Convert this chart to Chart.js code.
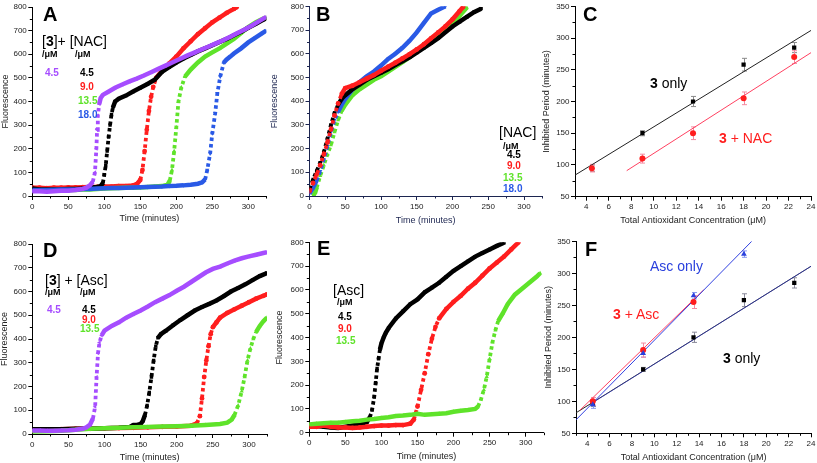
<!DOCTYPE html>
<html><head><meta charset="utf-8">
<script src="https://cdn.jsdelivr.net/npm/chart.js@4.4.1/dist/chart.umd.min.js"></script>
<style>
html,body{margin:0;padding:0;background:#fff;width:817px;height:463px;overflow:hidden;position:relative;}
canvas{position:absolute;left:0;top:0;}
.t{position:absolute;font-family:"Liberation Sans",Arial,Helvetica,sans-serif;white-space:nowrap;line-height:1;transform:translateY(-50%);color:#000;}
.L{font-size:20px;font-weight:bold;}
.h{font-size:14px;}
.u{font-size:9px;font-weight:bold;}
.n{font-size:10px;font-weight:bold;}
</style></head><body>
<canvas id="cA" width="817" height="463"></canvas>
<canvas id="cB" width="817" height="463"></canvas>
<canvas id="cC" width="817" height="463"></canvas>
<canvas id="cD" width="817" height="463"></canvas>
<canvas id="cE" width="817" height="463"></canvas>
<canvas id="cF" width="817" height="463"></canvas>

<div class="t L" style="left:43px;top:14px">A</div>
<div class="t h" style="left:42px;top:41px">[<b>3</b>]+ [NAC]</div>
<div class="t u" style="left:42px;top:54px">/μM</div>
<div class="t u" style="left:75px;top:54px">/μM</div>
<div class="t n" style="left:45px;top:73px;color:#a64dff">4.5</div>
<div class="t n" style="left:80px;top:73px;color:#000">4.5</div>
<div class="t n" style="left:80px;top:87px;color:#ff1e1e">9.0</div>
<div class="t n" style="left:78px;top:101px;color:#5fe32a">13.5</div>
<div class="t n" style="left:78px;top:115px;color:#2a5ae6">18.0</div>

<div class="t L" style="left:316px;top:14px">B</div>
<div class="t h" style="left:499px;top:132px">[NAC]</div>
<div class="t u" style="left:503px;top:146px">/μM</div>
<div class="t n" style="left:507px;top:155px;color:#000">4.5</div>
<div class="t n" style="left:507px;top:166px;color:#ff1e1e">9.0</div>
<div class="t n" style="left:503px;top:178px;color:#5fe32a">13.5</div>
<div class="t n" style="left:503px;top:189px;color:#2a5ae6">18.0</div>

<div class="t L" style="left:583px;top:14px">C</div>
<div class="t h" style="left:650px;top:83px"><b>3</b> only</div>
<div class="t h" style="left:719px;top:138px;color:#ff1e1e"><b>3</b> + NAC</div>

<div class="t L" style="left:43px;top:250px">D</div>
<div class="t h" style="left:45px;top:280px">[<b>3</b>] + [Asc]</div>
<div class="t u" style="left:45px;top:292px">/μM</div>
<div class="t u" style="left:80px;top:292px">/μM</div>
<div class="t n" style="left:47px;top:310px;color:#a64dff">4.5</div>
<div class="t n" style="left:82px;top:310px;color:#000">4.5</div>
<div class="t n" style="left:82px;top:320px;color:#ff1e1e">9.0</div>
<div class="t n" style="left:80px;top:329px;color:#5fe32a">13.5</div>

<div class="t L" style="left:317px;top:248px">E</div>
<div class="t h" style="left:333px;top:290px">[Asc]</div>
<div class="t u" style="left:337px;top:302px">/μM</div>
<div class="t n" style="left:338px;top:317px;color:#000">4.5</div>
<div class="t n" style="left:338px;top:329px;color:#ff1e1e">9.0</div>
<div class="t n" style="left:336px;top:341px;color:#5fe32a">13.5</div>

<div class="t L" style="left:585px;top:249px">F</div>
<div class="t h" style="left:650px;top:266px;color:#2a40dd">Asc only</div>
<div class="t h" style="left:613px;top:314px;color:#ff1e1e"><b>3</b> + Asc</div>
<div class="t h" style="left:723px;top:358px"><b>3</b> only</div>

<script>
const FONT = '"Liberation Sans", Arial, Helvetica, sans-serif';

// ---- tick values ----
const timeTicks = [0, 50, 100, 150, 200, 250, 300];
const timeMinor = [25, 75, 125, 175, 225, 275, 325];
const fluorTicks = [0, 100, 200, 300, 400, 500, 600, 700, 800];
const fluorMinor = [50, 150, 250, 350, 450, 550, 650, 750];
const concTicks = [4, 6, 8, 10, 12, 14, 16, 18, 20, 22, 24];
const concMinor = [3, 5, 7, 9, 11, 13, 15, 17, 19, 21, 23];
const periodTicks = [50, 100, 150, 200, 250, 300, 350];
const periodMinor = [75, 125, 175, 225, 275, 325];

// ---- Panel A: [3] + [NAC] ----
const tA_purple = [0,10,20,30,40,50,60,70,75,80,84,87,89,90,91,93,95,98,105,115,125,135,145,155,165,175,185,195,205,215,225,235,245,255,265,275,285,295,305,315,325];
const yA_purple = [20,20,18,20,22,22,25,30,35,45,60,100,200,280,340,390,415,428,440,458,472,485,497,510,524,538,552,566,580,594,607,620,633,646,659,674,690,705,722,740,758];
const tA_black = [0,10,20,30,40,50,60,70,80,90,95,98,100,102,104,106,108,110,112,115,120,130,140,150,160,170,180,190,200,210,220,230,240,250,260,270,280,290,300,310,320,325];
const yA_black = [32,28,27,28,28,30,30,32,35,38,42,55,90,130,190,250,300,345,375,400,412,425,442,458,474,492,525,545,565,582,597,612,625,638,652,665,680,695,712,728,745,752];
const tA_red = [0,10,20,30,40,50,60,70,80,90,100,110,120,130,140,145,150,153,156,159,162,165,168,172,180,190,200,210,220,230,240,250,260,270,280,284];
const yA_red = [35,35,33,35,35,36,36,37,38,38,40,40,42,42,45,50,68,110,190,280,360,420,462,500,530,560,590,625,655,685,710,735,755,775,792,800];
const tA_green = [0,10,20,30,40,50,60,70,80,90,100,110,120,130,140,150,160,170,180,188,191,194,197,200,203,207,212,220,230,240,250,260,270,280,290,300,310,320,325];
const yA_green = [25,25,24,25,24,26,25,27,28,30,32,33,34,35,35,36,38,40,42,48,65,110,190,290,400,460,505,535,565,590,608,625,645,665,690,715,735,750,755];
const tA_blue = [0,10,20,30,40,50,60,70,80,90,100,110,120,130,140,150,160,170,180,190,200,210,220,230,236,240,243,247,250,254,257,261,266,270,275,280,290,300,310,320,325];
const yA_blue = [25,25,25,26,27,28,28,30,30,32,33,34,34,35,36,37,38,39,40,42,43,45,48,52,58,70,110,180,265,350,435,505,565,578,590,603,625,650,670,690,700];

// ---- Panel B: [NAC] only ----
const tB_black = [0,5,10,15,20,25,30,35,40,45,50,60,70,80,90,100,110,120,130,140,150,160,170,180,190,200,210,220,230,240];
const yB_black = [30,70,105,140,185,240,300,350,385,410,425,450,470,490,505,520,535,552,568,585,605,625,645,665,690,715,735,755,775,790];
const tB_red = [0,5,10,15,20,25,30,35,40,45,50,60,70,80,90,100,110,120,130,140,150,160,170,180,190,200,210,215];
const yB_red = [20,55,90,130,175,225,280,340,390,430,455,465,480,495,510,528,545,562,580,598,618,640,665,690,715,745,780,798];
const tB_green = [5,8,10,15,20,25,30,35,40,45,50,60,70,80,90,100,110,120,130,140,150,160,170,180,190,200,210,220];
const yB_green = [0,15,35,85,130,175,215,270,320,360,385,425,450,470,490,505,525,545,565,585,610,630,650,675,700,725,760,795];
const tB_blue = [0,5,10,15,20,25,30,35,40,45,50,60,70,80,90,100,110,120,130,140,150,160,170,180,190];
const yB_blue = [10,35,65,105,155,210,270,320,355,385,410,450,480,505,525,550,578,600,625,655,690,730,770,785,800];

// ---- Panel C: inhibited period vs concentration (NAC) ----
const concC = [4.5, 9, 13.5, 18, 22.5];
const periodC_only = [95, 150, 200, 258, 285];
const errC_only = [5, 4, 8, 10, 8];
const periodC_nac = [95, 110, 150, 205, 270];
const errC_nac = [6, 7, 10, 10, 10];
const fitC_only_x = [3, 24];
const fitC_only_y = [84, 312];
const fitC_nac_x = [7.6, 24];
const fitC_nac_y = [91, 277];

// ---- Panel D: [3] + [Asc] ----
const tD_purple = [0,10,20,30,40,50,60,70,75,80,84,87,89,91,93,96,100,110,120,130,140,150,160,170,180,190,200,210,220,230,240,250,260,270,280,290,300,310,320,325];
const yD_purple = [15,15,14,14,15,16,18,22,28,40,65,115,240,340,385,415,435,455,470,490,505,520,537,555,570,585,603,620,640,660,680,695,705,718,730,740,748,755,762,765];
const tD_black = [0,20,40,60,80,100,120,135,140,145,150,153,156,159,162,165,168,171,174,178,185,195,205,215,225,235,245,255,265,275,285,295,305,315,325];
const yD_black = [20,20,20,22,22,24,26,30,38,38,42,55,80,120,175,240,310,370,405,420,435,458,480,500,520,535,548,562,580,600,615,630,648,665,678];
const tD_red = [0,20,40,60,80,100,120,140,160,180,200,220,228,232,235,238,241,244,247,250,255,260,270,280,290,300,310,320,325];
const yD_red = [15,18,20,22,22,24,25,26,28,30,32,35,45,75,150,240,310,370,420,450,470,490,510,525,540,555,570,582,588];
const tD_green = [0,20,40,60,80,100,120,140,160,180,200,220,240,260,270,276,280,285,290,294,298,302,306,310,315,320,325];
const yD_green = [10,12,14,18,22,24,26,28,30,32,33,35,38,42,48,60,80,120,180,240,310,360,400,430,455,475,490];

// ---- Panel E: [Asc] only ----
const tE_black = [0,10,20,30,40,50,60,70,80,84,87,90,92,94,96,98,100,103,106,110,120,130,140,150,160,170,180,190,200,210,220,230,240,250,260,270];
const yE_black = [30,28,25,22,20,25,30,35,45,65,95,150,210,270,310,350,375,400,420,440,480,510,540,560,590,610,630,655,680,700,720,740,755,770,785,798];
const tE_red = [0,10,20,30,40,50,60,70,80,90,100,110,120,130,140,145,150,155,160,165,170,175,180,190,200,210,220,230,240,250,260,270,280,290];
const yE_red = [25,25,30,25,22,22,20,22,25,28,30,30,32,32,38,55,110,180,250,330,395,445,480,520,550,575,605,630,660,690,715,740,770,800];
const tE_green = [0,10,20,30,40,50,60,70,80,90,100,110,120,130,140,150,160,170,180,190,200,210,220,230,234,238,242,246,250,254,258,262,268,275,285,295,305,315,320];
const yE_green = [35,38,40,42,42,45,48,50,55,58,62,65,70,72,75,80,75,78,80,82,88,92,95,100,110,140,180,235,310,380,430,470,500,540,580,605,630,655,670];

// ---- Panel F: inhibited period vs concentration (Asc) ----
const concF = [4.5, 9, 13.5, 18, 22.5];
const periodF_only = [97, 150, 200, 258, 285];
const errF_only = [5, 3, 8, 10, 8];
const concF_asc = [4.5, 9, 13.5, 18];
const periodF_asc = [95, 175, 265, 330];
const errF_asc = [6, 6, 5, 5];
const concF_mix = [4.5, 9, 13.5];
const periodF_mix = [100, 180, 255];
const errF_mix = [6, 11, 10];
const fitF_only_x = [3, 24];
const fitF_only_y = [82, 311];
const fitF_only2_x = [4.5, 24];
const fitF_only2_y = [98, 311];
const fitF_asc_x = [3, 18.7];
const fitF_asc_y = [71, 350];
const fitF_mix_x = [3.35, 14.4];
const fitF_mix_y = [86, 274];

// ---- colours ----
const PURPLE = '#a64dff', BLACK = '#000000', RED = '#ff1e1e', GREEN = '#5fe32a', BLUE = '#2a5ae6';

const pts = (xs, ys) => xs.map((x, i) => ({x: x, y: ys[i]}));

function steep(c) {
  const dx = Math.abs(c.p1.x - c.p0.x), dy = Math.abs(c.p1.y - c.p0.y);
  return dy > 2.2 * dx && dy > 6;
}

function curve(xs, ys, color, style, rot) {
  return {data: pts(xs, ys), showLine: true, borderColor: color, backgroundColor: color,
    borderWidth: 4.5, pointStyle: style, rotation: rot || 0, pointRadius: 2.4,
    pointBorderWidth: 0, tension: 0, borderCapStyle: 'butt',
    segment: {
      borderDash: c => steep(c) ? [3.5, 3] : undefined,
      borderWidth: c => steep(c) ? 3.8 : undefined
    }};
}
function markers(xs, ys, color, style, r) {
  return {data: pts(xs, ys), showLine: false, borderColor: color, backgroundColor: color,
    pointStyle: style, pointRadius: r, pointBorderWidth: 0};
}
function fit(xs, ys, color, w) {
  return {data: pts(xs, ys), showLine: true, borderColor: color, borderWidth: w || 1,
    pointRadius: 0, tension: 0};
}

const extras = {
  id: 'extras',
  beforeDatasetsDraw(chart) {
    const o = chart.options.plugins.extras;
    const ctx = chart.ctx, xs = chart.scales.x, ys = chart.scales.y;
    ctx.save();
    (o.bars || []).forEach(b => {
      ctx.strokeStyle = b.color; ctx.lineWidth = 1;
      b.x.forEach((xv, i) => {
        const px = Math.round(xs.getPixelForValue(xv)) + 0.5;
        const p1 = ys.getPixelForValue(b.y[i] + b.err[i]);
        const p2 = ys.getPixelForValue(b.y[i] - b.err[i]);
        ctx.beginPath();
        ctx.moveTo(px, p1); ctx.lineTo(px, p2);
        ctx.moveTo(px - 2.5, p1); ctx.lineTo(px + 2.5, p1);
        ctx.moveTo(px - 2.5, p2); ctx.lineTo(px + 2.5, p2);
        ctx.stroke();
      });
    });
    ctx.restore();
  },
  afterDraw(chart) {
    const o = chart.options.plugins.extras;
    const ctx = chart.ctx, xs = chart.scales.x, ys = chart.scales.y;
    ctx.save();
    ctx.strokeStyle = o.axisColor; ctx.lineWidth = 1;
    ctx.beginPath();
    o.xMinor.forEach(v => {
      if (v < xs.min || v > xs.max) return;
      const px = Math.round(xs.getPixelForValue(v)) + 0.5;
      ctx.moveTo(px, xs.top); ctx.lineTo(px, xs.top + 2.5);
    });
    o.yMinor.forEach(v => {
      if (v < ys.min || v > ys.max) return;
      const py = Math.round(ys.getPixelForValue(v)) + 0.5;
      ctx.moveTo(ys.right, py); ctx.lineTo(ys.right - 2.5, py);
    });
    ctx.stroke();
    ctx.restore();
  }
};

function axis(min, max, ticks, title, fitFn, color) {
  return {
    type: 'linear', min: min, max: max,
    afterBuildTicks: s => { s.ticks = ticks.map(v => ({value: v})); },
    afterFit: fitFn,
    grid: {display: true, drawOnChartArea: false, drawTicks: true, tickLength: 4, tickColor: color, color: color},
    border: {display: true, color: color, width: 1},
    ticks: {font: {family: FONT, size: 8}, color: '#222', padding: 1.5, maxRotation: 0, autoSkip: false},
    title: {display: true, text: title, font: {family: FONT, size: 9, lineHeight: 1.1}, color: color === '#000' ? '#222' : color, padding: 0}
  };
}

function panel(id, p) {
  const W = 817, H = 463;
  new Chart(document.getElementById(id), {
    type: 'scatter',
    data: {datasets: p.datasets},
    options: {
      responsive: false, animation: false, events: [],
      layout: {padding: {left: p.l - p.yW, right: W - p.r, top: p.t, bottom: H - p.b - p.xH}},
      plugins: {legend: {display: false}, tooltip: {enabled: false},
        extras: {bars: p.bars || [], xMinor: p.xMinor, yMinor: p.yMinor, axisColor: p.color || '#000'}},
      scales: {
        x: axis(p.xMin, p.xMax, p.xTicks, p.xTitle, s => { s.height = p.xH; }, p.color || '#000'),
        y: axis(p.yMin, p.yMax, p.yTicks, p.yTitle, s => { s.width = p.yW; }, p.color || '#000')
      }
    },
    plugins: [extras]
  });
}

const TIME = 'Time (minutes)', FLUOR = 'Fluorescence';
const CONC = 'Total Antioxidant Concentration (\u03bcM)', PER = 'Inhibited Period (minutes)';

panel('cA', {l: 32.3, t: 7, r: 266.3, b: 196, yW: 32, xH: 27.3,
  xMin: 0, xMax: 325, yMin: 0, yMax: 800, xTicks: timeTicks, yTicks: fluorTicks,
  xMinor: timeMinor, yMinor: fluorMinor, xTitle: TIME, yTitle: FLUOR,
  datasets: [
    curve(tA_purple, yA_purple, PURPLE, 'triangle', 270),
    curve(tA_blue, yA_blue, BLUE, 'triangle', 180),
    curve(tA_black, yA_black, BLACK, 'rect'),
    curve(tA_green, yA_green, GREEN, 'triangle'),
    curve(tA_red, yA_red, RED, 'circle')
  ]});

panel('cB', {l: 309.5, t: 6.3, r: 541.9, b: 196, yW: 39.5, xH: 29,
  xMin: 0, xMax: 325, yMin: 0, yMax: 800, xTicks: timeTicks, yTicks: fluorTicks,
  xMinor: timeMinor, yMinor: fluorMinor, xTitle: TIME, yTitle: FLUOR, color: '#1c2550',
  datasets: [
    curve(tB_red, yB_red, RED, 'circle'),
    curve(tB_black, yB_black, BLACK, 'rect'),
    curve(tB_blue, yB_blue, BLUE, 'triangle', 180),
    curve(tB_green, yB_green, GREEN, 'triangle')
  ]});

panel('cC', {l: 575, t: 5, r: 811.7, b: 196.7, yW: 33, xH: 28.3,
  xMin: 3, xMax: 24, yMin: 50, yMax: 350, xTicks: concTicks, yTicks: periodTicks,
  xMinor: concMinor, yMinor: periodMinor, xTitle: CONC, yTitle: PER,
  bars: [
    {x: concC, y: periodC_only, err: errC_only, color: '#8a8a8a'},
    {x: concC, y: periodC_nac, err: errC_nac, color: '#f58aa0'}
  ],
  datasets: [
    markers(concC, periodC_nac, RED, 'circle', 3),
    markers(concC.slice(1), periodC_only.slice(1), BLACK, 'rect', 3),
    fit(fitC_only_x, fitC_only_y, '#222'),
    fit(fitC_nac_x, fitC_nac_y, '#ff4060')
  ]});

panel('cD', {l: 32.3, t: 244, r: 267, b: 434, yW: 32.3, xH: 28.7,
  xMin: 0, xMax: 325, yMin: 0, yMax: 800, xTicks: timeTicks, yTicks: fluorTicks,
  xMinor: timeMinor, yMinor: fluorMinor, xTitle: TIME, yTitle: FLUOR,
  datasets: [
    curve(tD_purple, yD_purple, PURPLE, 'triangle', 270),
    curve(tD_green, yD_green, GREEN, 'triangle'),
    curve(tD_black, yD_black, BLACK, 'rect'),
    curve(tD_red, yD_red, RED, 'circle')
  ]});

panel('cE', {l: 309.3, t: 242.3, r: 543.7, b: 432.7, yW: 34.3, xH: 29,
  xMin: 0, xMax: 325, yMin: 0, yMax: 800, xTicks: timeTicks, yTicks: fluorTicks,
  xMinor: timeMinor, yMinor: fluorMinor, xTitle: TIME, yTitle: FLUOR,
  datasets: [
    curve(tE_green, yE_green, GREEN, 'triangle'),
    curve(tE_red, yE_red, RED, 'circle'),
    curve(tE_black, yE_black, BLACK, 'rect')
  ]});

panel('cF', {l: 576, t: 241.3, r: 812.7, b: 433.3, yW: 32, xH: 28.7,
  xMin: 3, xMax: 24, yMin: 50, yMax: 350, xTicks: concTicks, yTicks: periodTicks,
  xMinor: concMinor, yMinor: periodMinor, xTitle: CONC, yTitle: PER,
  bars: [
    {x: concF, y: periodF_only, err: errF_only, color: '#8a8a9a'},
    {x: concF_asc, y: periodF_asc, err: errF_asc, color: '#8a9af0'},
    {x: concF_mix, y: periodF_mix, err: errF_mix, color: '#f58aa0'}
  ],
  datasets: [
    markers(concF_asc, periodF_asc, '#2a40dd', 'triangle', 3.3),
    markers(concF_mix, periodF_mix, RED, 'circle', 3),
    markers(concF, periodF_only, BLACK, 'rect', 3),
    fit(fitF_only2_x, fitF_only2_y, 'rgba(50,60,220,0.6)'),
    fit(fitF_asc_x, fitF_asc_y, '#3040e0'),
    fit(fitF_mix_x, fitF_mix_y, '#ff4060'),
    fit(fitF_only_x, fitF_only_y, '#222')
  ]});
</script>
</body></html>
